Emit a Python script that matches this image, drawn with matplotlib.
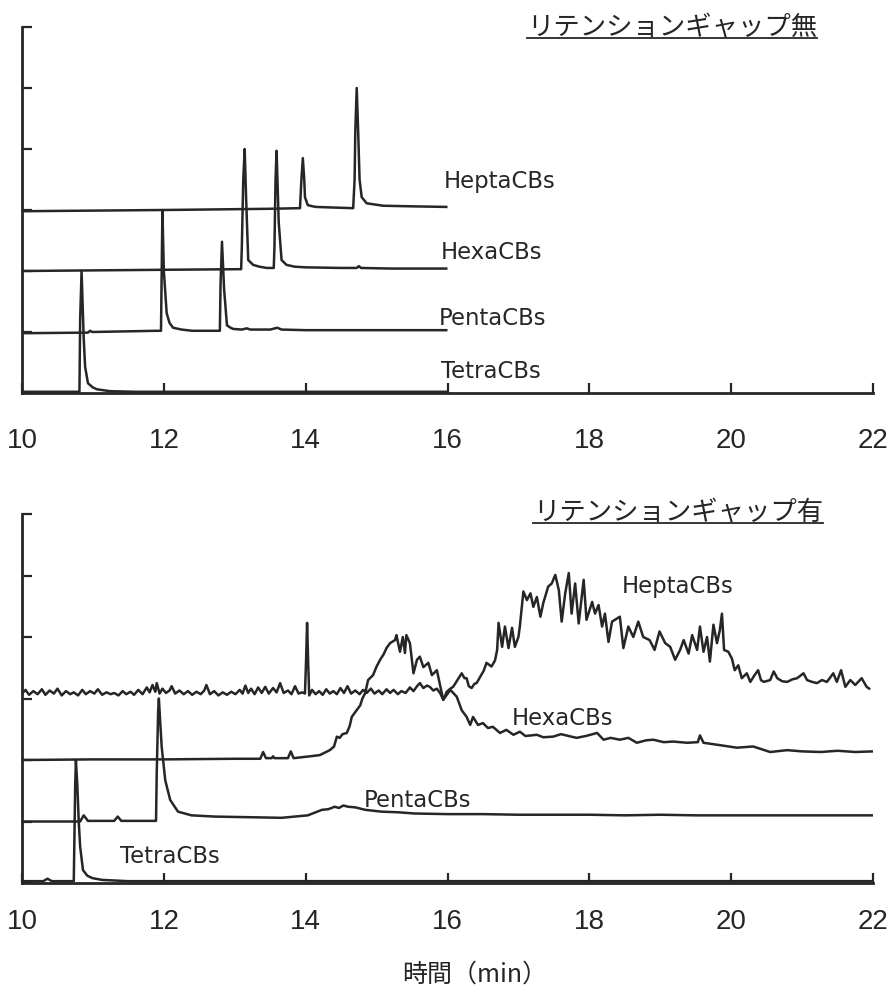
import matplotlib
matplotlib.use("Agg")
import matplotlib.pyplot as plt
from matplotlib.lines import Line2D

plt.rcParams['font.family'] = ['Noto Sans CJK JP', 'DejaVu Sans']

# ---------------- data (retention time in min, signal relative to its trace baseline) ----------------
series_names = ["TetraCBs", "PentaCBs", "HexaCBs", "HeptaCBs"]
offsets = [0, 1, 2, 3]
x_ticks = [10, 12, 14, 16, 18, 20, 22]
titles = ["リテンションギャップ無", "リテンションギャップ有"]
xlabel_text = "時間（min）"

# ---- panel A: without retention gap ----
a_tetra_t = [10.0, 10.81, 10.82, 10.84, 10.87, 10.89, 10.93, 11.0, 11.06, 11.24, 11.6, 16.0]
a_tetra_y = [0.02, 0.02, 1.2, 2.0, 0.9, 0.43, 0.16, 0.09, 0.06, 0.03, 0.02, 0.02]

a_penta_t = [10.0, 10.93, 10.96, 10.99, 11.9, 11.96, 11.97, 11.98, 12.0, 12.04, 12.08, 12.13, 12.25,
             12.4, 12.75, 12.79, 12.80, 12.82, 12.85, 12.89, 12.94, 12.98, 13.1, 13.17, 13.22, 13.5,
             13.6, 13.66, 14.0, 15.0, 16.0]
a_penta_y = [-0.02, -0.01, 0.02, 0.0, 0.02, 0.02, 1.0, 2.0, 1.0, 0.31, 0.15, 0.07, 0.04,
             0.02, 0.02, 0.02, 0.8, 1.48, 0.7, 0.11, 0.07, 0.05, 0.04, 0.06, 0.04, 0.04,
             0.07, 0.04, 0.03, 0.03, 0.03]

a_hexa_t = [10.0, 12.0, 13.09, 13.10, 13.12, 13.14, 13.16, 13.19, 13.26, 13.35, 13.45, 13.55, 13.56,
            13.575, 13.59, 13.62, 13.66, 13.73, 13.85, 14.0, 14.5, 14.72, 14.75, 14.78, 15.2, 16.0]
a_hexa_y = [0.0, 0.02, 0.03, 0.4, 1.5, 2.0, 1.2, 0.18, 0.10, 0.07, 0.05, 0.05, 0.4,
            1.5, 1.97, 0.8, 0.18, 0.10, 0.07, 0.06, 0.05, 0.05, 0.08, 0.05, 0.04, 0.04]

a_hepta_t = [10.0, 12.0, 13.5, 13.92, 13.94, 13.96, 13.98, 13.99, 14.03, 14.1, 14.15, 14.4, 14.67,
             14.69, 14.70, 14.72, 14.74, 14.76, 14.79, 14.86, 15.09, 15.5, 16.0]
a_hepta_y = [-0.02, 0.0, 0.02, 0.03, 0.5, 0.85, 0.5, 0.21, 0.08, 0.06, 0.05, 0.04, 0.03,
             0.5, 1.3, 2.0, 1.3, 0.5, 0.21, 0.11, 0.07, 0.06, 0.05]

# ---- panel B: with retention gap ----
b_tetra_t = [10.0, 10.3, 10.36, 10.42, 10.73, 10.74, 10.75, 10.76, 10.78, 10.80, 10.82, 10.86,
             10.92, 10.99, 11.13, 11.5, 22.0]
b_tetra_y = [0.03, 0.03, 0.07, 0.03, 0.03, 0.8, 1.6, 2.0, 1.6, 1.0, 0.59, 0.21,
             0.12, 0.08, 0.05, 0.03, 0.03]

b_penta_t = [10.0, 10.82, 10.87, 10.93, 11.3, 11.35, 11.4, 11.89, 11.90, 11.92, 11.93, 11.95,
             11.97, 12.02, 12.09, 12.2, 12.39, 12.72, 13.2, 13.66, 14.03, 14.23, 14.32, 14.41,
             14.47, 14.53, 14.6, 14.7, 14.84, 15.07, 15.3, 15.54, 16.0, 16.5, 17.0, 17.5, 18.0,
             18.5, 19.0, 19.5, 20.0, 20.5, 21.0, 21.5, 22.0]
b_penta_y = [0.0, 0.0, 0.1, 0.01, 0.01, 0.08, 0.01, 0.01, 0.8, 1.8, 2.0, 1.6,
             1.21, 0.67, 0.35, 0.16, 0.10, 0.08, 0.07, 0.06, 0.10, 0.19, 0.20, 0.24,
             0.22, 0.26, 0.24, 0.23, 0.19, 0.16, 0.15, 0.13, 0.12, 0.12, 0.11, 0.11, 0.11,
             0.10, 0.11, 0.10, 0.10, 0.10, 0.10, 0.10, 0.10]

b_hexa_t = [10.0, 11.0, 12.0, 13.0, 13.36, 13.40, 13.44, 13.52, 13.54, 13.56, 13.75, 13.79, 13.83,
            14.06, 14.2, 14.34, 14.40, 14.44, 14.48, 14.52, 14.58, 14.62, 14.65, 14.70, 14.77,
            14.80, 14.84, 14.88, 14.95, 15.0, 15.05, 15.10, 15.14, 15.19, 15.26, 15.28, 15.33,
            15.37, 15.40, 15.42, 15.47, 15.52, 15.57, 15.61, 15.66, 15.73, 15.78, 15.85, 15.90,
            15.94, 16.04, 16.13, 16.20, 16.27, 16.32, 16.36, 16.43, 16.50, 16.57, 16.64, 16.74,
            16.83, 16.93, 17.02, 17.1, 17.26, 17.35, 17.49, 17.6, 17.82, 17.95, 18.11, 18.20,
            18.3, 18.43, 18.55, 18.67, 18.8, 18.90, 19.05, 19.18, 19.38, 19.53, 19.56, 19.61,
            19.85, 20.08, 20.31, 20.55, 20.79, 21.0, 21.26, 21.5, 21.75, 22.0]
b_hexa_y = [0.0, 0.01, 0.01, 0.02, 0.02, 0.13, 0.03, 0.03, 0.06, 0.03, 0.03, 0.14, 0.03,
            0.06, 0.08, 0.16, 0.22, 0.38, 0.36, 0.42, 0.44, 0.55, 0.70, 0.78, 0.89,
            1.00, 1.09, 1.30, 1.38, 1.52, 1.63, 1.72, 1.82, 1.90, 1.95, 2.03, 1.76,
            2.00, 1.74, 2.03, 1.90, 1.41, 1.63, 1.68, 1.51, 1.58, 1.38, 1.46, 1.19,
            0.98, 1.14, 1.03, 0.81, 0.70, 0.57, 0.70, 0.57, 0.60, 0.52, 0.54, 0.44,
            0.49, 0.41, 0.46, 0.39, 0.41, 0.37, 0.38, 0.42, 0.36, 0.39, 0.44, 0.33,
            0.36, 0.33, 0.36, 0.28, 0.32, 0.33, 0.29, 0.30, 0.28, 0.29, 0.40, 0.28,
            0.24, 0.20, 0.22, 0.13, 0.16, 0.14, 0.13, 0.15, 0.13, 0.14]

b_hepta_t = [10.00, 10.05, 10.10, 10.16, 10.22, 10.28, 10.33, 10.39, 10.45, 10.50, 10.56, 10.62,
             10.68, 10.73, 10.79, 10.85, 10.90, 10.96, 11.02, 11.07, 11.13, 11.19, 11.25, 11.30,
             11.36, 11.42, 11.47, 11.53, 11.58, 11.64, 11.70, 11.76, 11.80, 11.84, 11.88, 11.90,
             11.94, 11.98, 12.03, 12.08, 12.11, 12.16, 12.22, 12.28, 12.34, 12.40, 12.46, 12.52,
             12.57, 12.60, 12.65, 12.71, 12.77, 12.83, 12.89, 12.95, 13.01, 13.07, 13.11, 13.15,
             13.19, 13.23, 13.28, 13.33, 13.38, 13.43, 13.48, 13.54, 13.59, 13.64, 13.69, 13.75,
             13.80, 13.85, 13.90, 13.95, 13.99, 14.005, 14.02, 14.035, 14.05, 14.09, 14.14, 14.19,
             14.24, 14.29, 14.34, 14.39, 14.44, 14.49, 14.54, 14.59, 14.64, 14.70, 14.76, 14.81,
             14.86, 14.92, 14.97, 15.03, 15.08, 15.14, 15.19, 15.24, 15.30, 15.35, 15.41, 15.47,
             15.52, 15.57, 15.61, 15.66, 15.71, 15.75, 15.80, 15.85, 15.90, 15.94, 15.99, 16.04,
             16.08, 16.14, 16.20, 16.24, 16.27, 16.30, 16.34, 16.38, 16.41, 16.46, 16.51, 16.55,
             16.62, 16.67, 16.70, 16.72, 16.77, 16.81, 16.86, 16.91, 16.95, 17.00, 17.02, 17.07,
             17.12, 17.17, 17.21, 17.26, 17.31, 17.35, 17.42, 17.47, 17.52, 17.57, 17.61, 17.66,
             17.71, 17.75, 17.80, 17.85, 17.92, 17.96, 18.04, 18.08, 18.13, 18.18, 18.22, 18.27,
             18.32, 18.39, 18.43, 18.48, 18.55, 18.62, 18.69, 18.76, 18.85, 18.92, 18.99, 19.07,
             19.14, 19.21, 19.28, 19.33, 19.40, 19.45, 19.52, 19.56, 19.61, 19.66, 19.70, 19.75,
             19.80, 19.84, 19.87, 19.90, 19.96, 20.01, 20.05, 20.10, 20.15, 20.22, 20.27, 20.33,
             20.38, 20.42, 20.46, 20.55, 20.60, 20.65, 20.72, 20.79, 20.86, 20.93, 21.02, 21.07,
             21.14, 21.21, 21.28, 21.35, 21.44, 21.49, 21.55, 21.61, 21.68, 21.75, 21.84, 21.91,
             21.96]
b_hepta_y = [0.08, 0.14, 0.06, 0.12, 0.07, 0.15, 0.06, 0.13, 0.08, 0.16, 0.05, 0.12,
             0.07, 0.10, 0.05, 0.14, 0.07, 0.12, 0.08, 0.15, 0.06, 0.10, 0.07, 0.09,
             0.05, 0.12, 0.07, 0.11, 0.06, 0.14, 0.07, 0.18, 0.10, 0.22, 0.11, 0.25,
             0.08, 0.16, 0.09, 0.13, 0.20, 0.08, 0.13, 0.07, 0.12, 0.06, 0.11, 0.07,
             0.13, 0.22, 0.07, 0.12, 0.05, 0.10, 0.06, 0.11, 0.07, 0.14, 0.08, 0.21,
             0.09, 0.16, 0.07, 0.18, 0.09, 0.19, 0.08, 0.17, 0.10, 0.25, 0.09, 0.13,
             0.07, 0.20, 0.08, 0.10, 0.08, 0.60, 1.23, 0.60, 0.05, 0.14, 0.07, 0.12,
             0.06, 0.15, 0.08, 0.12, 0.07, 0.17, 0.09, 0.20, 0.08, 0.13, 0.07, 0.14,
             0.09, 0.16, 0.08, 0.13, 0.07, 0.15, 0.09, 0.14, 0.07, 0.12, 0.09, 0.18,
             0.12, 0.20, 0.25, 0.17, 0.21, 0.19, 0.13, 0.16, 0.08, -0.02, 0.11, 0.16,
             0.19, 0.30, 0.41, 0.33, 0.33, 0.20, 0.17, 0.24, 0.25, 0.35, 0.45, 0.58,
             0.52, 0.62, 0.79, 1.23, 0.84, 1.17, 0.82, 1.15, 0.84, 1.00, 1.17, 1.74,
             1.60, 1.71, 1.49, 1.65, 1.33, 1.55, 1.82, 1.87, 2.01, 1.76, 1.25, 1.71,
             2.04, 1.38, 1.87, 1.22, 1.93, 1.28, 1.57, 1.38, 1.52, 1.17, 1.38, 0.92,
             1.25, 1.30, 1.33, 0.82, 1.17, 1.00, 1.25, 1.00, 0.95, 0.79, 1.09, 0.90,
             0.84, 0.63, 0.79, 0.95, 0.73, 1.03, 0.79, 1.17, 0.76, 1.00, 0.60, 1.20,
             0.90, 1.11, 1.38, 0.79, 0.76, 0.65, 0.46, 0.54, 0.33, 0.41, 0.27, 0.38,
             0.46, 0.30, 0.27, 0.30, 0.44, 0.33, 0.28, 0.27, 0.31, 0.33, 0.41, 0.30,
             0.27, 0.25, 0.30, 0.27, 0.41, 0.27, 0.46, 0.19, 0.30, 0.22, 0.33, 0.19,
             0.15]

panel_a = [(a_tetra_t, a_tetra_y), (a_penta_t, a_penta_y), (a_hexa_t, a_hexa_y), (a_hepta_t, a_hepta_y)]
panel_b = [(b_tetra_t, b_tetra_y), (b_penta_t, b_penta_y), (b_hexa_t, b_hexa_y), (b_hepta_t, b_hepta_y)]

# ---------------- layout ----------------
W, H = 893, 990
INK = '#262626'
fig = plt.figure(figsize=(W / 100, H / 100), dpi=100)
ax_a = fig.add_axes([22 / W, 1 - 393 / H, 851 / W, 366 / H])
ax_b = fig.add_axes([22 / W, 1 - 883 / H, 851 / W, 369 / H])

# label positions (x in min, y in panel units, baseline anchored)
label_pos_a = [(15.91, 0.25), (15.87, 1.115), (15.91, 2.19), (15.95, 3.356)]
label_pos_b = [(11.38, 0.32), (14.82, 1.24), (16.91, 2.57), (18.46, 4.71)]

for ax, traces, lpos, pad in [(ax_a, panel_a, label_pos_a, 25), (ax_b, panel_b, label_pos_b, 19)]:
    for (t, y), off, name, (lx, ly) in zip(traces, offsets, series_names, lpos):
        ax.plot(t, [v + off for v in y], color=INK, lw=1.8, solid_joinstyle='round',
                solid_capstyle='butt', clip_on=False, zorder=3)
        ax.text(lx, ly, name, fontsize=16.4, family=['DejaVu Sans'], color=INK,
                ha='left', va='baseline')
    ax.set_xlim(10, 22)
    ax.set_ylim(0, 6)
    for s in ['top', 'right']:
        ax.spines[s].set_visible(False)
    for s in ['left', 'bottom']:
        ax.spines[s].set_linewidth(2.0)
        ax.spines[s].set_color(INK)
    ax.set_xticks(x_ticks)
    ax.set_xticklabels([str(v) for v in x_ticks], family=['Liberation Sans'], fontsize=20, color=INK)
    ax.set_yticks(range(0, 7))
    ax.set_yticklabels([])
    ax.tick_params(axis='x', direction='in', length=7.5, width=1.6, color=INK, pad=pad)
    ax.tick_params(axis='y', direction='in', length=7.5, width=1.6, color=INK)
    ax.patch.set_visible(False)

# titles with underline
title_specs = [(titles[0], 817, 34.5, 37.5), (titles[1], 823, 519.5, 522.5)]
fig.canvas.draw()
renderer = fig.canvas.get_renderer()
for txt, xr, yb, yu in title_specs:
    tt = fig.text(xr / W, 1 - yb / H, txt, fontsize=19, color=INK,
                  family=['Noto Sans CJK JP'], ha='right', va='baseline')
    bb = tt.get_window_extent(renderer=renderer)
    fig.add_artist(Line2D([bb.x0 / W, bb.x1 / W], [1 - yu / H, 1 - yu / H],
                          transform=fig.transFigure, color=INK, lw=1.3))

fig.text(475 / W, 1 - 975 / H, xlabel_text, fontsize=18, color=INK,
         family=['Noto Sans CJK JP'], ha='center', va='center')

fig.savefig('out.png', dpi=100, facecolor='white')
